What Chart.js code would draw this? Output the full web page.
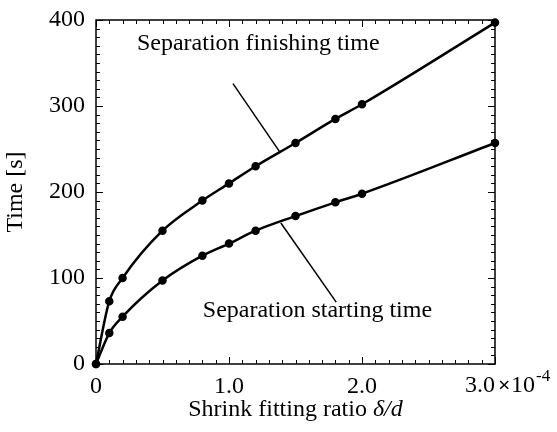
<!DOCTYPE html>
<html>
<head>
<meta charset="utf-8">
<script src="https://cdn.jsdelivr.net/npm/chart.js@4/dist/chart.umd.min.js"></script>
<style>
html,body{margin:0;padding:0;background:#fff;}
#wrap{width:557px;height:432px;position:relative;}
</style>
</head>
<body>
<div id="wrap"><canvas id="c"></canvas></div>
<script>
// Shrink fitting ratio (x 1e-4)
const ratio = [0, 0.1, 0.2, 0.5, 0.8, 1.0, 1.2, 1.5, 1.8, 2.0, 3.0];
const finishingTime = [0, 73, 100, 155, 190, 210, 230, 257, 285, 302, 397];
const startingTime  = [0, 36, 55, 97, 126, 140, 155, 172, 188, 198, 257];
const xTickLabels = ['0', '1.0', '2.0', '3.0'];
const yTickLabels = ['0', '100', '200', '300', '400'];
const labelFinish = 'Separation finishing time';
const labelStart = 'Separation starting time';
// annotation anchors in data units: [x, y]
const finishText = [1.22, 372];
const finishLeader = [[1.03, 326], [1.38, 247]];
const startText = [1.665, 62];
const startLeader = [[1.39, 164], [1.806, 72]];

const FONT = "'Liberation Serif', 'Times New Roman', serif";
const FS = 24;

const toPts = (ys) => ratio.map((x, i) => ({x: x, y: ys[i]}));

const decor = {
  id: 'decor',
  afterDraw(chart) {
    const ctx = chart.ctx;
    const xs = chart.scales.x, ys = chart.scales.y;
    const a = chart.chartArea;
    ctx.save();
    ctx.strokeStyle = '#000';
    ctx.lineWidth = 1;
    // inward ticks on all four sides
    for (let i = 0; i <= 30; i++) {
      const v = i / 10;
      const px = Math.round(xs.getPixelForValue(v)) + 0.5;
      const len = (i % 10 === 0) ? 7 : 4;
      ctx.beginPath();
      ctx.moveTo(px, a.bottom); ctx.lineTo(px, a.bottom - len);
      ctx.moveTo(px, a.top); ctx.lineTo(px, a.top + len);
      ctx.stroke();
    }
    for (let i = 0; i <= 40; i++) {
      const v = i * 10;
      const py = Math.round(ys.getPixelForValue(v)) + 0.5;
      const len = (i % 10 === 0) ? 7 : 4;
      ctx.beginPath();
      ctx.moveTo(a.left, py); ctx.lineTo(a.left + len, py);
      ctx.moveTo(a.right, py); ctx.lineTo(a.right - len, py);
      ctx.stroke();
    }
    // frame
    ctx.lineWidth = 1.5;
    ctx.strokeRect(a.left, a.top, a.right - a.left, a.bottom - a.top);

    // leader lines
    ctx.lineWidth = 1.5;
    [finishLeader, startLeader].forEach(l => {
      ctx.beginPath();
      ctx.moveTo(xs.getPixelForValue(l[0][0]), ys.getPixelForValue(l[0][1]));
      ctx.lineTo(xs.getPixelForValue(l[1][0]), ys.getPixelForValue(l[1][1]));
      ctx.stroke();
    });
    // labels
    ctx.fillStyle = '#000';
    ctx.font = FS + 'px ' + FONT;
    ctx.textAlign = 'center';
    ctx.textBaseline = 'middle';
    ctx.fillText(labelFinish, xs.getPixelForValue(finishText[0]), ys.getPixelForValue(finishText[1]));
    ctx.fillText(labelStart, xs.getPixelForValue(startText[0]), ys.getPixelForValue(startText[1]));

    // last x tick label with multiplier
    const lastX = xs.getPixelForValue(3);
    const ty = a.bottom + 22;
    ctx.textAlign = 'right';
    ctx.font = FS + 'px ' + FONT;
    ctx.fillText(xTickLabels[3], lastX, ty);
    ctx.textAlign = 'left';
    ctx.font = 'bold 22px ' + FONT;
    ctx.fillText('\u00d7', lastX + 3, ty);
    ctx.font = FS + 'px ' + FONT;
    ctx.fillText('10', lastX + 16, ty);
    ctx.font = '17px ' + FONT;
    ctx.fillText('-4', lastX + 41, ty - 9);

    // x title with italic part
    const t1 = 'Shrink fitting ratio ';
    ctx.font = FS + 'px ' + FONT;
    const w1 = ctx.measureText(t1).width;
    ctx.font = 'italic ' + FS + 'px ' + FONT;
    const w2 = ctx.measureText('\u03b4/d').width;
    const cx = (a.left + a.right) / 2;
    const sx = cx - (w1 + w2) / 2;
    const yy = a.bottom + 46;
    ctx.font = FS + 'px ' + FONT;
    ctx.fillText(t1, sx, yy);
    ctx.font = 'italic ' + FS + 'px ' + FONT;
    ctx.fillText('\u03b4/d', sx + w1, yy);

    // y title
    ctx.save();
    ctx.translate(16, (a.top + a.bottom) / 2);
    ctx.rotate(-Math.PI / 2);
    ctx.textAlign = 'center';
    ctx.font = FS + 'px ' + FONT;
    ctx.fillText('Time [s]', 0, 0);
    ctx.restore();

    ctx.restore();
  }
};

const ds = (data) => ({
  data: data,
  borderColor: '#000',
  backgroundColor: '#000',
  borderWidth: 2.5,
  pointRadius: 3,
  pointHoverRadius: 3,
  pointBackgroundColor: '#000',
  pointBorderColor: '#000',
  cubicInterpolationMode: 'monotone',
  fill: false,
  clip: false
});

new Chart(document.getElementById('c'), {
  type: 'line',
  data: {
    datasets: [ds(toPts(finishingTime)), ds(toPts(startingTime))]
  },
  options: {
    responsive: true,
    maintainAspectRatio: false,
    animation: false,
    events: [],
    layout: {padding: {top: 20, right: 62, left: 0, bottom: 0}},
    plugins: {legend: {display: false}, tooltip: {enabled: false}},
    scales: {
      x: {
        type: 'linear', min: 0, max: 3,
        afterFit: (s) => { s.height = 68; },
        grid: {display: false, drawTicks: false},
        border: {display: false},
        afterBuildTicks: (s) => { s.ticks = xTickLabels.map((t, i) => ({value: i})); },
        ticks: {
          color: '#000', padding: 8, maxRotation: 0,
          font: {family: FONT, size: FS},
          callback: (v, i) => (i === 3 ? '' : xTickLabels[i])
        }
      },
      y: {
        type: 'linear', min: 0, max: 400,
        afterFit: (s) => { s.width = 96; s.paddingTop = 0; s.paddingBottom = 0; },
        grid: {display: false, drawTicks: false},
        border: {display: false},
        afterBuildTicks: (s) => { s.ticks = yTickLabels.map((t, i) => ({value: i * 100})); },
        ticks: {
          color: '#000', padding: 11,
          font: {family: FONT, size: FS, lineHeight: 0.5},
          callback: (v, i) => yTickLabels[i]
        }
      }
    }
  },
  plugins: [decor]
});
</script>
</body>
</html>
